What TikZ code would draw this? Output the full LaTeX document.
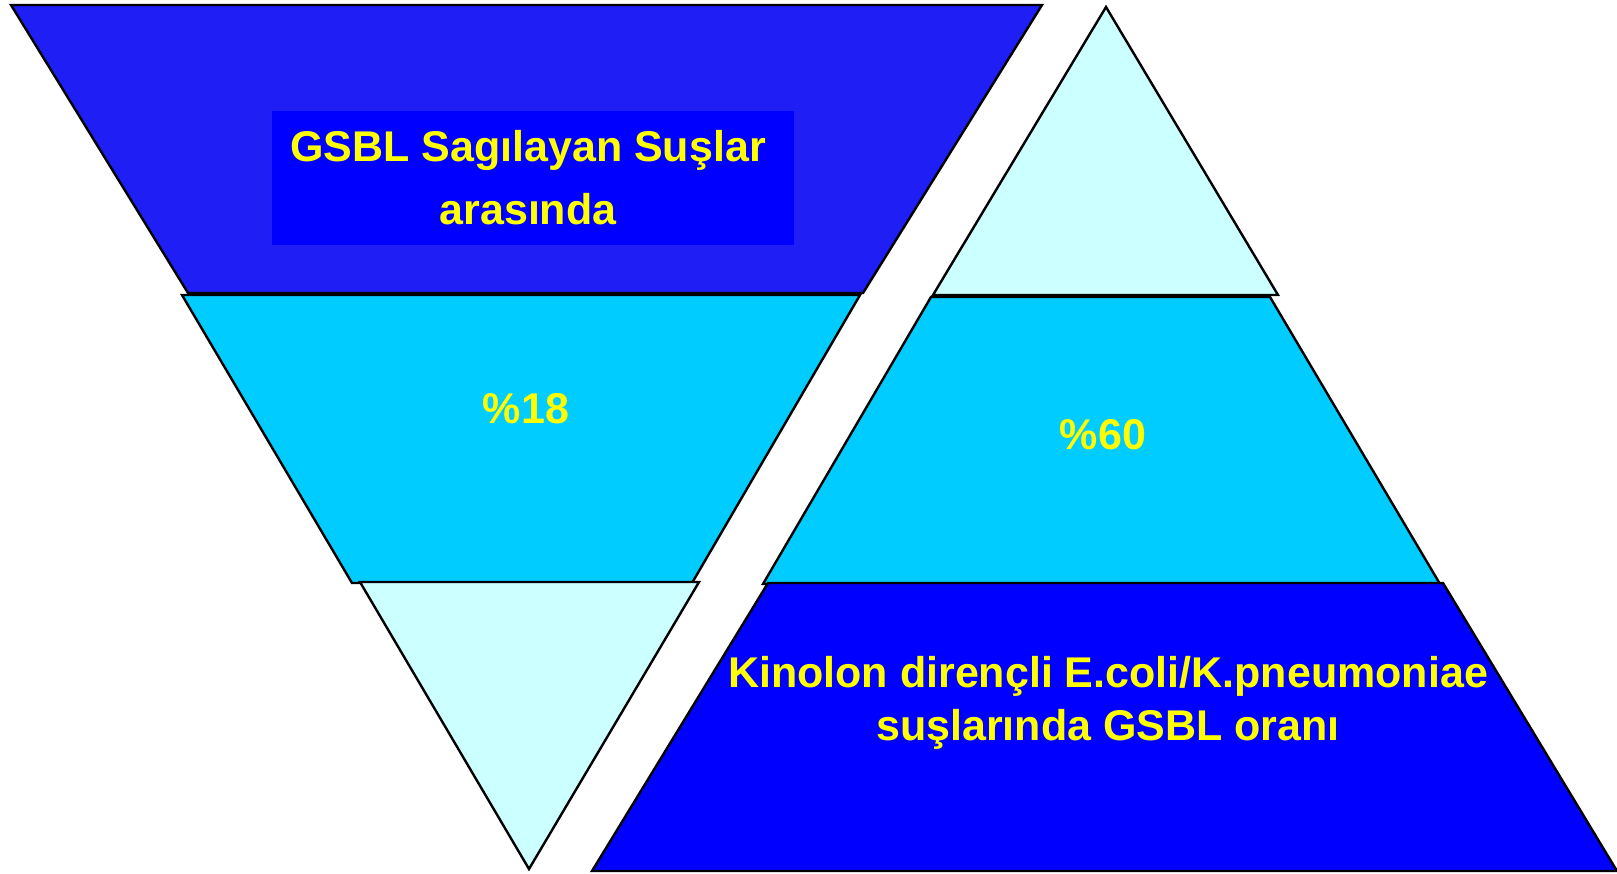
\documentclass[tikz,border=0pt]{standalone}
\usepackage{fontspec}
\setmainfont{Liberation Sans}
\definecolor{dkblue}{RGB}{0,0,255}
\definecolor{patblue}{RGB}{30,30,245}
\definecolor{midcyan}{RGB}{0,204,255}
\definecolor{ltcyan}{RGB}{204,255,255}
\definecolor{txtyellow}{RGB}{255,255,0}
\tikzset{
  band/.style={draw=black, line width=2.4pt, line join=miter},
  lbl/.style={text=txtyellow, font=\fontsize{43}{63}\selectfont\bfseries, align=center, inner sep=0pt}
}
\begin{document}
\begin{tikzpicture}[x=1pt,y=-1pt]
\useasboundingbox (0,0) rectangle (1617,873);
% left inverted pyramid
\path[band, fill=patblue] (11,5) -- (1042,5) -- (863,293) -- (188,293) -- cycle;
\fill[dkblue] (272,111) rectangle (794,245);
\path[band, fill=midcyan] (182,295) -- (860,295) -- (692,583) -- (352,583) -- cycle;
\path[band, fill=ltcyan] (360,582) -- (699,582) -- (529,869) -- cycle;
% right pyramid
\path[band, fill=ltcyan] (1106,7) -- (1278,295) -- (933,295) -- cycle;
\path[band, fill=midcyan] (931,297) -- (1270,297) -- (1440,584) -- (763,584) -- cycle;
\path[band, fill=dkblue] (768,583) -- (1443,583) -- (1617,871) -- (592,871) -- cycle;
% labels
\node[lbl] (gsbl) at (528,178) {GSBL Sagılayan Suşlar\\arasında};
\node[lbl] (p18) at (526,409) {\%18};
\node[lbl] (p60) at (1103,435) {\%60};
\node[lbl, font=\fontsize{43}{53}\selectfont\bfseries] (kin) at (1108,703) {Kinolon dirençli E.coli/K.pneumoniae\\suşlarında GSBL oranı};
\end{tikzpicture}
\end{document}
